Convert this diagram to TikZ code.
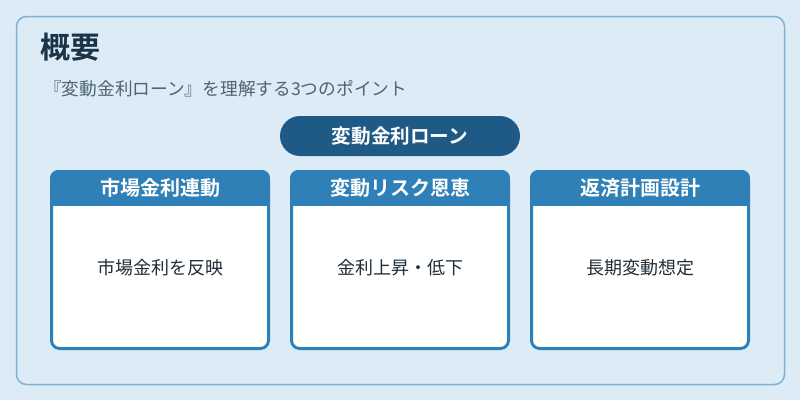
\documentclass[tikz,border=0pt]{standalone}
\usepackage{fontspec}
\setmainfont{Noto Sans CJK JP}
\newfontfamily\jpbold{Noto Sans CJK JP Bold}
\definecolor{bgc}{HTML}{DCEBF6}
\definecolor{panelline}{HTML}{7DB3D5}
\definecolor{titlec}{HTML}{1B3447}
\definecolor{subc}{HTML}{4F6373}
\definecolor{pillc}{HTML}{1F5A86}
\definecolor{headc}{HTML}{2F80B6}
\definecolor{bodyc}{HTML}{1E2E3A}
\tikzset{
  panel/.style={draw=panelline, line width=1.5pt, fill=bgc, rounded corners=10pt},
  pill/.style={fill=pillc, rounded corners=20pt, minimum width=240pt, minimum height=40pt, text=white, font=\jpbold\fontsize{19.6}{22}\selectfont, inner sep=0pt},
  card/.style={draw=headc, line width=3pt, fill=white, rounded corners=8pt},
  cardhead/.style={text=white, font=\jpbold\fontsize{20}{22}\selectfont, inner sep=0pt},
  cardbody/.style={text=bodyc, font=\fontsize{18}{20}\selectfont, inner sep=0pt},
}
\begin{document}
\begin{tikzpicture}[x=1pt,y=-1pt]
\fill[bgc] (0,0) rectangle (800,400);
\useasboundingbox (0,0) rectangle (800,400);
\draw[panel] (16.5,16.5) rectangle (784.5,384.5);
\node[anchor=west, text=titlec, font=\jpbold\fontsize{30}{32}\selectfont, inner sep=0pt] (title) at (40,47) {概要};
\node[anchor=west, text=subc, font=\fontsize{17.7}{20}\selectfont, inner sep=0pt] (sub) at (44,89) {『変動金利ローン』を理解する3つのポイント};
\node[pill] (pill) at (400,136) {変動金利ローン};
\foreach \i/\x/\h/\b in {1/50/市場金利連動/市場金利を反映, 2/290/変動リスク恩恵/金利上昇・低下, 3/530/返済計画設計/長期変動想定}{
  \begin{scope}
    \clip[rounded corners=8pt] (\x,170) rectangle ++(220,180);
    \fill[white] (\x,170) rectangle ++(220,180);
    \fill[headc] (\x,170) rectangle ++(220,36);
  \end{scope}
  \draw[card, fill=none] (\x+1.5,171.5) rectangle ++(217,177);
  \node[cardhead] (h\i) at (\x+110,188) {\h};
  \node[cardbody] (b\i) at (\x+110,268) {\b};
}
\end{tikzpicture}
\end{document}
